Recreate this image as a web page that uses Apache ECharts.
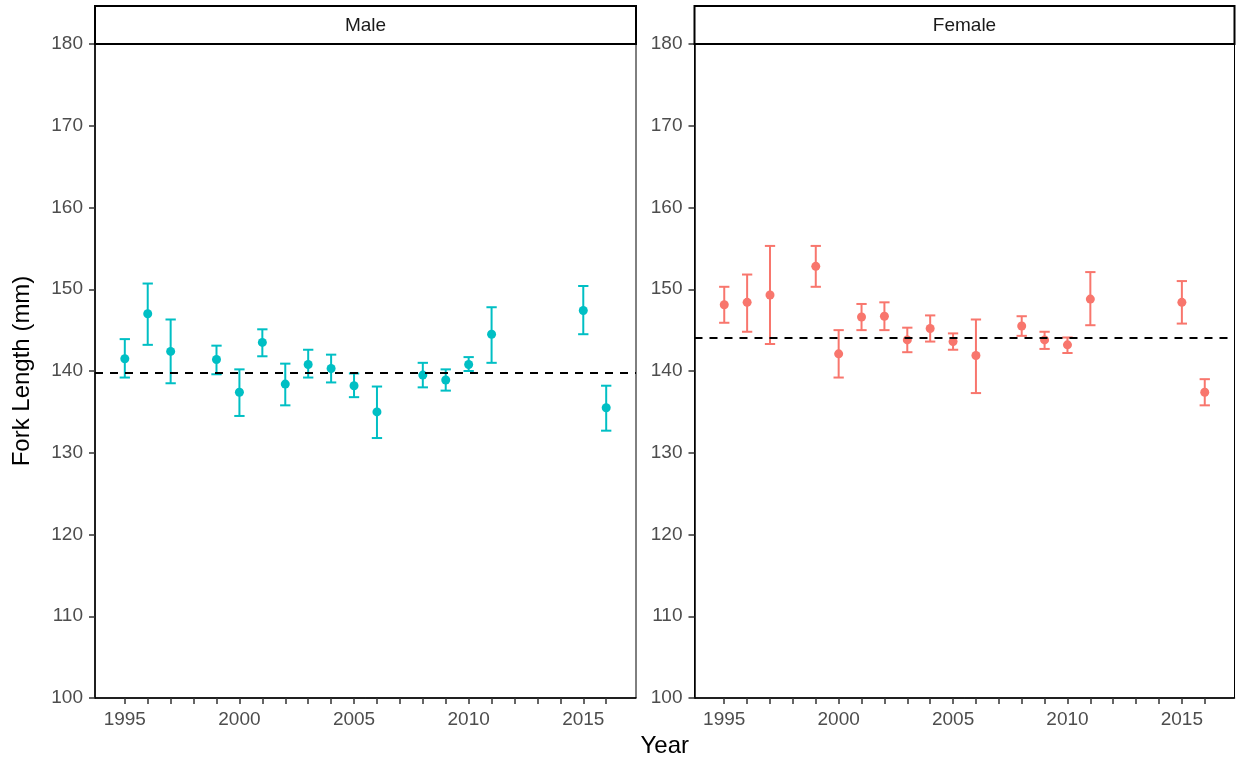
<!DOCTYPE html>
<html>
<head>
<meta charset="utf-8">
<script src="https://cdn.jsdelivr.net/npm/echarts@6/dist/echarts.min.js"></script>
<style>
  html, body { margin: 0; padding: 0; background: #fff; }
  #chart { width: 1238px; height: 765px; }
</style>
</head>
<body>
<div id="chart"></div>
<script>
// Mean fork length by year with error bars, faceted by sex
const years = [1995, 1996, 1997, 1999, 2000, 2001, 2002, 2003, 2004, 2005, 2006, 2008, 2009, 2010, 2011, 2015, 2016];

const maleMean = [141.5, 147.0, 142.4, 141.4, 137.4, 143.5, 138.4, 140.8, 140.3, 138.2, 135.0, 139.5, 138.9, 140.8, 144.5, 147.4, 135.5];
const maleLow  = [139.2, 143.2, 138.5, 139.6, 134.5, 141.8, 135.8, 139.2, 138.6, 136.8, 131.8, 138.0, 137.6, 140.0, 141.0, 144.5, 132.7];
const maleHigh = [143.9, 150.7, 146.3, 143.1, 140.2, 145.1, 140.9, 142.6, 142.0, 139.7, 138.1, 141.0, 140.2, 141.7, 147.8, 150.4, 138.2];

const femaleMean = [148.1, 148.4, 149.3, 152.8, 142.1, 146.6, 146.7, 143.8, 145.2, 143.6, 141.9, 145.5, 143.8, 143.2, 148.8, 148.4, 137.4];
const femaleLow  = [145.9, 144.8, 143.3, 150.3, 139.2, 145.0, 145.0, 142.3, 143.6, 142.6, 137.3, 144.3, 142.7, 142.2, 145.6, 145.8, 135.8];
const femaleHigh = [150.3, 151.8, 155.3, 155.3, 145.0, 148.2, 148.4, 145.3, 146.8, 144.6, 146.3, 146.7, 144.8, 144.1, 152.1, 151.0, 139.0];

const maleOverall = 139.8;
const femaleOverall = 144.1;

const panelNames = ['Male', 'Female'];
const yTicks = [100, 110, 120, 130, 140, 150, 160, 170, 180];
const xLabelYears = [1995, 2000, 2005, 2010, 2015];
const xTickYears = [];
for (let y = 1995; y <= 2016; y++) xTickYears.push(y);

const COLORS = ['#00BFC4', '#F8766D'];
const FONT = '"Liberation Sans", Arial, sans-serif';
const CAP = 0.45; // error bar cap width in years

const PANELS = [
  { left: 95, width: 541 },
  { left: 694.5, width: 540 }
];
const TOP = 44, BOTTOM_Y = 698;

function errorBars(color) {
  return function (params, api) {
    const x = api.value(0);
    const lo = api.coord([x, api.value(1)]);
    const hi = api.coord([x, api.value(2)]);
    const half = api.size([CAP, 0])[0] / 2;
    const style = { stroke: color, lineWidth: 2 };
    return {
      type: 'group',
      children: [
        { type: 'line', shape: { x1: lo[0], y1: lo[1], x2: hi[0], y2: hi[1] }, style },
        { type: 'line', shape: { x1: lo[0] - half, y1: lo[1], x2: lo[0] + half, y2: lo[1] }, style },
        { type: 'line', shape: { x1: hi[0] - half, y1: hi[1], x2: hi[0] + half, y2: hi[1] }, style }
      ]
    };
  };
}

const sets = [
  { mean: maleMean, low: maleLow, high: maleHigh, overall: maleOverall },
  { mean: femaleMean, low: femaleLow, high: femaleHigh, overall: femaleOverall }
];

const grid = [], xAxis = [], yAxis = [], series = [], graphic = [];

PANELS.forEach((p, i) => {
  grid.push({
    left: p.left, width: p.width, top: TOP, height: BOTTOM_Y - TOP,
    show: true, borderColor: '#000', borderWidth: 1, backgroundColor: '#fff'
  });
  xAxis.push({
    type: 'value', gridIndex: i, min: 1993.7, max: 2017.3,
    axisLine: { show: true, onZero: false, lineStyle: { color: '#000', width: 1.5 } },
    axisTick: { show: true, length: 6, customValues: xTickYears, lineStyle: { color: '#333', width: 1.5 } },
    axisLabel: { customValues: xLabelYears, color: '#4D4D4D', fontSize: 19, fontFamily: FONT, margin: 12,
      formatter: v => String(v) },
    splitLine: { show: false }
  });
  yAxis.push({
    type: 'value', gridIndex: i, min: 100, max: 180, interval: 10,
    axisLine: { show: true, onZero: false, lineStyle: { color: '#000', width: 1.5 } },
    axisTick: { show: true, length: 6, lineStyle: { color: '#333', width: 1.5 } },
    axisLabel: { color: '#4D4D4D', fontSize: 19, fontFamily: FONT, margin: 12,
      customValues: yTicks, formatter: v => String(v) },
    splitLine: { show: false }
  });

  const s = sets[i];
  series.push({
    type: 'custom', name: panelNames[i] + ' range', xAxisIndex: i, yAxisIndex: i,
    renderItem: errorBars(COLORS[i]),
    encode: { x: 0, y: [1, 2] },
    data: years.map((yr, k) => [yr, s.low[k], s.high[k]]),
    silent: true, z: 2
  });
  series.push({
    type: 'scatter', name: panelNames[i], xAxisIndex: i, yAxisIndex: i,
    symbolSize: 9, itemStyle: { color: COLORS[i], opacity: 1 },
    data: years.map((yr, k) => [yr, s.mean[k]]),
    silent: true, z: 3,
    markLine: {
      silent: true, symbol: 'none', animation: false,
      label: { show: false },
      lineStyle: { color: '#000', type: [8, 7], width: 1.8 },
      data: [{ yAxis: s.overall }]
    }
  });

  // facet strip
  graphic.push({
    type: 'rect',
    shape: { x: p.left, y: 6, width: p.width, height: TOP - 6 },
    style: { fill: '#fff', stroke: '#000', lineWidth: 2 },
    z: 10
  });
  graphic.push({
    type: 'text', x: p.left + p.width / 2, y: (6 + TOP) / 2 + 1,
    style: { text: panelNames[i], font: '19px ' + FONT, fill: '#1A1A1A', align: 'center', verticalAlign: 'middle' },
    z: 11
  });
});

graphic.push({
  type: 'text', x: 22, y: (TOP + BOTTOM_Y) / 2, rotation: Math.PI / 2,
  style: { text: 'Fork Length (mm)', font: '24px ' + FONT, fill: '#000', align: 'center', verticalAlign: 'middle' },
  z: 11
});
graphic.push({
  type: 'text', x: (PANELS[0].left + PANELS[1].left + PANELS[1].width) / 2, y: 746,
  style: { text: 'Year', font: '24px ' + FONT, fill: '#000', align: 'center', verticalAlign: 'middle' },
  z: 11
});

const chart = echarts.init(document.getElementById('chart'), null, { renderer: 'canvas' });
chart.setOption({
  animation: false,
  backgroundColor: '#fff',
  grid, xAxis, yAxis, series, graphic
});
</script>
</body>
</html>
